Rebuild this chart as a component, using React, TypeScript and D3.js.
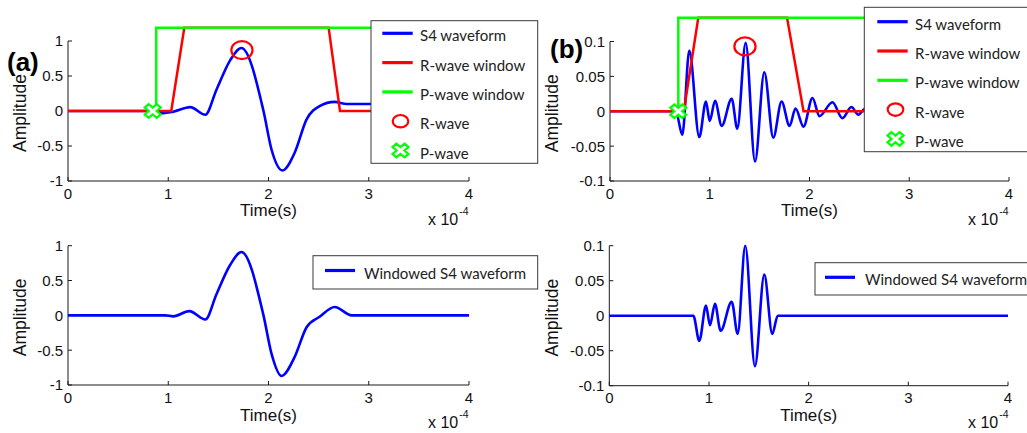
import React from 'react';
import * as d3 from 'd3';

// ---------- data (time in units of 1e-4 s) ----------
const xTicks = [0, 1, 2, 3, 4];
const yTicksA = [-1, -0.5, 0, 0.5, 1];
const yTicksB = [-0.1, -0.05, 0, 0.05, 0.1];

const s4WaveA: [number, number][] = [
  [0, 0], [0.78, 0], [0.95, -0.03], [1.05, -0.01], [1.22, 0.055], [1.37, -0.053],
  [1.48, 0.3], [1.62, 0.73], [1.73, 0.9], [1.95, 0], [2.03, -0.55], [2.14, -0.85],
  [2.26, -0.6], [2.38, -0.12], [2.51, 0.07], [2.66, 0.13], [2.78, 0.1], [4, 0.1],
];
const rWindowA: [number, number][] = [[0, 0], [1.03, 0], [1.16, 1.19], [2.6, 1.19], [2.713, 0], [4, 0]];
const pWindowA: [number, number][] = [[0.88, 0], [0.88, 1.19], [4, 1.19]];
const rWaveA: [number, number] = [1.735, 0.87];
const pWaveA: [number, number] = [0.845, 0];
const windowedA: [number, number][] = [
  [0, 0], [0.97, 0], [1.05, -0.014], [1.21, 0.06], [1.37, -0.06], [1.48, 0.3],
  [1.62, 0.73], [1.73, 0.91], [1.95, 0], [2.03, -0.55], [2.13, -0.87], [2.26, -0.6],
  [2.38, -0.17], [2.51, -0.02], [2.66, 0.12], [2.83, 0], [4, 0],
];

const s4WaveB: [number, number][] = [
  [0, 0], [0.66, 0], [0.725, -0.034], [0.795, 0.087], [0.895, -0.037], [0.962, 0.014],
  [1.0, -0.014], [1.053, 0.015], [1.12, -0.021], [1.22, 0.018], [1.276, -0.025],
  [1.36, 0.098], [1.454, -0.072], [1.547, 0.056], [1.637, -0.038], [1.72, 0.014],
  [1.8, -0.021], [1.86, 0.004], [1.94, -0.022], [2.03, 0.019], [2.1, -0.007],
  [2.23, 0.013], [2.33, -0.01], [2.42, 0.006], [2.49, -0.005], [2.56, 0.004],
  [2.7, 0], [4, 0],
];
const rWindowB: [number, number][] = [[0, 0], [0.74, 0], [0.885, 0.134], [1.775, 0.134], [1.94, 0], [4, 0]];
const pWindowB: [number, number][] = [[0.685, 0], [0.685, 0.134], [4, 0.134]];
const rWaveB: [number, number] = [1.353, 0.093];
const pWaveB: [number, number] = [0.685, 0];
const windowedB: [number, number][] = [
  [0, 0], [0.843, 0], [0.903, -0.036], [0.97, 0.0144], [1.01, -0.0134], [1.06, 0.017],
  [1.117, -0.0216], [1.228, 0.02], [1.288, -0.026], [1.364, 0.1], [1.461, -0.072],
  [1.555, 0.0587], [1.635, -0.026], [1.69, 0], [4, 0],
];

const topLegend = ['S4 waveform', 'R-wave window', 'P-wave window', 'R-wave', 'P-wave'];
const bottomLegend = ['Windowed S4 waveform'];

// ---------- styles ----------
const BLUE = '#0000ff';
const RED = '#ff0000';
const GREEN = '#00ff00';
const FONT = "'Liberation Sans', Arial, Helvetica, sans-serif";
const LFONT = "Lato, 'Open Sans', sans-serif";

function xMarkPath(cx: number, cy: number, L = 8.5, w = 2.8, sy = 0.85) {
  const pts = [[-w, -L], [w, -L], [w, -w], [L, -w], [L, w], [w, w], [w, L], [-w, L], [-w, w], [-L, w], [-L, -w], [-w, -w]];
  const c = Math.SQRT1_2;
  return 'M' + pts.map(([px, py]) => `${(cx + (px - py) * c).toFixed(2)},${(cy + (px + py) * c * sy).toFixed(2)}`).join('L') + 'Z';
}

type PanelProps = {
  left: number; right: number; top: number; bottom: number;
  yMax: number; yTicks: number[];
  wave: [number, number][];
  rWin?: [number, number][]; pWin?: [number, number][];
  rMark?: [number, number]; pMark?: [number, number];
  yLabelX: number; xLabelY: number; expX: number; expY: number;
};

function Panel(p: PanelProps) {
  const x = d3.scaleLinear().domain([0, 4]).range([p.left, p.right]);
  const y = d3.scaleLinear().domain([-p.yMax, p.yMax]).range([p.bottom, p.top]);
  const smooth = d3.line<[number, number]>().x(d => x(d[0])).y(d => y(d[1])).curve(d3.curveMonotoneX);
  const straight = d3.line<[number, number]>().x(d => x(d[0])).y(d => y(d[1]));
  const axisColor = '#1a1a1a';
  return (
    <g>
      {/* axes */}
      <line x1={p.left} x2={p.left} y1={p.top} y2={p.bottom} stroke={axisColor} strokeWidth={1} />
      <line x1={p.left} x2={p.right} y1={p.bottom} y2={p.bottom} stroke={axisColor} strokeWidth={1} />
      {p.yTicks.map(t => (
        <g key={'y' + t}>
          <line x1={p.left} x2={p.left + 4} y1={y(t)} y2={y(t)} stroke={axisColor} />
          <text x={p.left - 5} y={y(t)} dy="0.36em" textAnchor="end" fontFamily={FONT} fontSize={15} fill="#111">{String(t)}</text>
        </g>
      ))}
      {xTicks.map(t => (
        <g key={'x' + t}>
          <line x1={x(t)} x2={x(t)} y1={p.bottom} y2={p.bottom - 4} stroke={axisColor} />
          <text x={x(t)} y={p.bottom + 17.5} textAnchor="middle" fontFamily={FONT} fontSize={15} fill="#111">{String(t)}</text>
        </g>
      ))}
      <text x={(p.left + p.right) / 2} y={p.xLabelY} textAnchor="middle" fontFamily={FONT} fontSize={17} fill="#111">Time(s)</text>
      <text transform={`translate(${p.yLabelX},${(p.top + p.bottom) / 2 + 2}) rotate(-90)`} textAnchor="middle" fontFamily={FONT} fontSize={17.5} fill="#111">Amplitude</text>
      <text x={p.expX} y={p.expY} fontFamily={FONT} fontSize={16} fill="#111">
        x 10<tspan dx={1} dy={-10} fontSize={10.5}>-4</tspan>
      </text>
      {/* data */}
      <path d={smooth(p.wave) || ''} fill="none" stroke={BLUE} strokeWidth={2.6} strokeLinejoin="round" />
      {p.rWin && <path d={straight(p.rWin) || ''} fill="none" stroke={RED} strokeWidth={2.5} />}
      {p.pWin && <path d={straight(p.pWin) || ''} fill="none" stroke={GREEN} strokeWidth={2.5} />}
      {p.rMark && <ellipse cx={x(p.rMark[0])} cy={y(p.rMark[1])} rx={10.6} ry={9} fill="none" stroke={RED} strokeWidth={2.2} />}
      {p.pMark && <path d={xMarkPath(x(p.pMark[0]), y(p.pMark[1]))} fill="#fff" stroke={GREEN} strokeWidth={2.2} />}
    </g>
  );
}

type LegendProps = { bx: number; by: number; bw: number; bh: number; lx1: number; lx2: number; tx: number; row0: number; step: number; labels: string[] };

function Legend(l: LegendProps) {
  const styles = [
    { kind: 'line', color: BLUE }, { kind: 'line', color: RED }, { kind: 'line', color: GREEN },
    { kind: 'circle', color: RED }, { kind: 'cross', color: GREEN },
  ];
  const mx = (l.lx1 + l.lx2) / 2 + 3;
  return (
    <g>
      <rect x={l.bx} y={l.by} width={l.bw} height={l.bh} fill="#fff" stroke="#3a3a3a" strokeWidth={1} />
      {l.labels.map((lab, i) => {
        const ry = l.row0 + i * l.step;
        const st = styles[i];
        return (
          <g key={lab}>
            {st.kind === 'line' && <line x1={l.lx1} x2={l.lx2} y1={ry} y2={ry} stroke={st.color} strokeWidth={3.2} />}
            {st.kind === 'circle' && <ellipse cx={mx} cy={ry} rx={7.8} ry={6.2} fill="none" stroke={st.color} strokeWidth={2.2} />}
            {st.kind === 'cross' && <path d={xMarkPath(mx, ry)} fill="#fff" stroke={st.color} strokeWidth={2.2} />}
            <text x={l.tx} y={ry + 8} fontFamily={LFONT} fontSize={15} fill="#222">{lab}</text>
          </g>
        );
      })}
    </g>
  );
}

export default function App() {
  return (
    <svg width={1027} height={433} style={{ position: 'absolute', left: 0, top: 0, background: '#fff' }}>
      <rect width={1027} height={433} fill="#fff" />
      <Panel left={68} right={469} top={41} bottom={181} yMax={1} yTicks={yTicksA}
        wave={s4WaveA} rWin={rWindowA} pWin={pWindowA} rMark={rWaveA} pMark={pWaveA}
        yLabelX={26} xLabelY={216} expX={428} expY={225} />
      <Panel left={68} right={469} top={245.7} bottom={385} yMax={1} yTicks={yTicksA}
        wave={windowedA} yLabelX={26} xLabelY={421} expX={428} expY={428} />
      <Panel left={610} right={1009} top={41.5} bottom={181} yMax={0.1} yTicks={yTicksB}
        wave={s4WaveB} rWin={rWindowB} pWin={pWindowB} rMark={rWaveB} pMark={pWaveB}
        yLabelX={558} xLabelY={216} expX={968} expY={225} />
      <Panel left={609.3} right={1008} top={245.7} bottom={385.7} yMax={0.1} yTicks={yTicksB}
        wave={windowedB} yLabelX={558} xLabelY={421} expX={968} expY={428} />

      <Legend bx={371} by={20.7} bw={166.7} bh={142.6} lx1={382.3} lx2={412.7} tx={420} row0={33.3} step={29.3} labels={topLegend} />
      <Legend bx={864.3} by={7.3} bw={200} bh={144.4} lx1={877.3} lx2={907.7} tx={915} row0={21.7} step={29.3} labels={topLegend} />
      <Legend bx={313} by={255.7} bw={224.7} bh={33.3} lx1={325} lx2={355} tx={364} row0={270.5} step={29.3} labels={bottomLegend} />
      <Legend bx={815} by={262.7} bw={250} bh={32.3} lx1={825} lx2={855} tx={865} row0={277.3} step={29.3} labels={bottomLegend} />

      <text x={7} y={70.5} fontFamily={FONT} fontSize={26} fontWeight="bold" fill="#000">(a)</text>
      <text x={550} y={57.8} fontFamily={FONT} fontSize={26} fontWeight="bold" fill="#000">(b)</text>
    </svg>
  );
}
